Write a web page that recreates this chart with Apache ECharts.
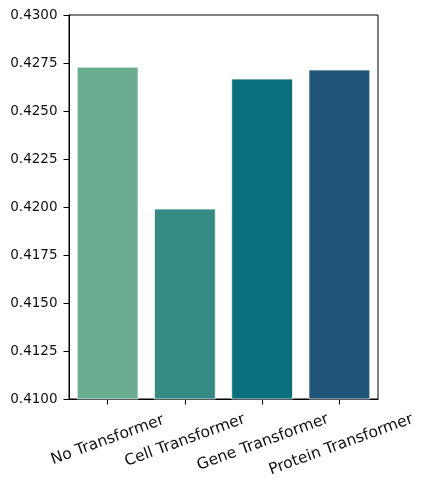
<!DOCTYPE html>
<html>
<head>
<meta charset="utf-8">
<script src="https://cdn.jsdelivr.net/npm/echarts@6/dist/echarts.min.js"></script>
<style>html,body{margin:0;padding:0;background:#fff;}#c{width:430px;height:492px;}</style>
</head>
<body>
<div id="c"></div>
<script>
const categories = ['No Transformer', 'Cell Transformer', 'Gene Transformer', 'Protein Transformer'];
const values = [0.42731, 0.41992, 0.42669, 0.42716];
const barColors = ['#6aad91', '#368b85', '#0c6f7e', '#1f5579'];
const yTicks = { min: 0.41, max: 0.43, interval: 0.0025 };

const labelShift = [0, 1, 5, 10];
const rich = {};
labelShift.forEach((p, i) => {
  rich['l' + i] = { fontFamily: 'DejaVu Sans', fontSize: 15.5, color: '#111', padding: [p, 0, 0, 0] };
});

const chart = echarts.init(document.getElementById('c'), null, { renderer: 'canvas' });
chart.setOption({
  animation: false,
  backgroundColor: '#fff',
  grid: { left: 69, right: 52, top: 15, bottom: 93, show: true, borderColor: '#000', borderWidth: 1, backgroundColor: 'transparent' },
  xAxis: {
    type: 'category',
    data: categories,
    axisLine: { show: true, lineStyle: { color: '#000', width: 1 } },
    axisTick: { show: true, alignWithLabel: true, length: 5.5, lineStyle: { color: '#000' } },
    axisLabel: {
      rotate: 20, align: 'center', verticalAlign: 'middle', margin: 41,
      fontFamily: 'DejaVu Sans', fontSize: 15.5, color: '#111',
      formatter: (v, i) => '{l' + categories.indexOf(v) + '|' + v + '}',
      rich: rich
    },
    splitLine: { show: false }
  },
  yAxis: {
    type: 'value',
    min: yTicks.min, max: yTicks.max, interval: yTicks.interval,
    axisLine: { show: true, lineStyle: { color: '#000', width: 1 } },
    axisTick: { show: true, length: 5.5, lineStyle: { color: '#000' } },
    axisLabel: { fontFamily: 'DejaVu Sans', fontSize: 13.5, color: '#111', margin: 11.5, padding: [4, 0, 0, 0], formatter: v => v.toFixed(4) },
    splitLine: { show: false }
  },
  series: [{
    type: 'bar',
    data: values.map((v, i) => ({ value: v, itemStyle: { color: barColors[i] } })),
    barWidth: '80%',
    itemStyle: { borderColor: 'rgba(255,255,255,0.7)', borderWidth: 1 }
  }]
});
</script>
</body>
</html>
